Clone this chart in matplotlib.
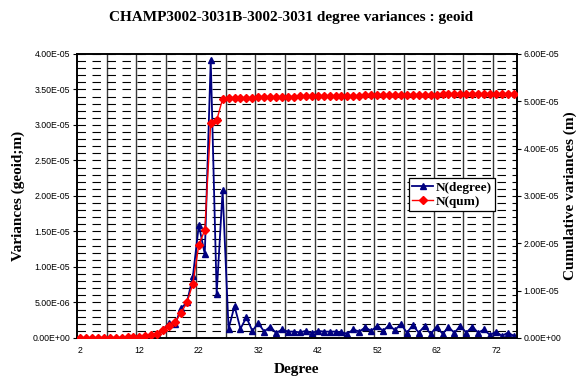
import matplotlib
matplotlib.use("Agg")
import matplotlib.pyplot as plt
import numpy as np

plt.rcParams["lines.scale_dashes"] = False

degrees = np.arange(2, 76)

# per-degree variances (units of 1e-5 m)
n_degree = np.array([
    0.001, 0.001, 0.001, 0.002, 0.002, 0.002, 0.003, 0.004, 0.005, 0.007,
    0.01, 0.015, 0.03, 0.06, 0.12, 0.21, 0.19, 0.42, 0.50, 0.87,
    1.59, 1.18, 3.92, 0.62, 2.08, 0.13, 0.45, 0.13, 0.29, 0.10,
    0.21, 0.09, 0.16, 0.07, 0.12, 0.09, 0.09, 0.08, 0.10, 0.07,
    0.10, 0.09, 0.09, 0.09, 0.08, 0.06, 0.12, 0.09, 0.15, 0.10,
    0.17, 0.10, 0.18, 0.11, 0.20, 0.075, 0.18, 0.075, 0.17, 0.056,
    0.16, 0.06, 0.15, 0.075, 0.17, 0.075, 0.16, 0.075, 0.12, 0.04,
    0.09, 0.03, 0.075, 0.03]) * 1e-5

# cumulative variances (units of 1e-5 m)
n_qum = np.array([
    0.0, 0.001, 0.002, 0.003, 0.004, 0.005, 0.007, 0.009, 0.012, 0.018,
    0.027, 0.04, 0.055, 0.08, 0.16, 0.25, 0.33, 0.53, 0.75, 1.15,
    1.97, 2.28, 4.55, 4.60, 5.05, 5.06, 5.07, 5.07, 5.08, 5.08,
    5.09, 5.09, 5.09, 5.095, 5.10, 5.10, 5.10, 5.105, 5.105, 5.11,
    5.11, 5.11, 5.115, 5.115, 5.115, 5.12, 5.12, 5.12, 5.125, 5.125,
    5.125, 5.13, 5.13, 5.13, 5.135, 5.135, 5.135, 5.14, 5.14, 5.14,
    5.14, 5.145, 5.145, 5.145, 5.145, 5.145, 5.15, 5.15, 5.15, 5.15,
    5.15, 5.15, 5.155, 5.155]) * 1e-5

x_tick_labels = [2, 12, 22, 32, 42, 52, 62, 72]

fig = plt.figure(figsize=(5.82, 3.81), dpi=100)
ax1 = fig.add_axes([0.1323, 0.1129, 0.7557, 0.7454])
ax2 = ax1.twinx()

# grid: dashed horizontals every 1e-6, solid verticals every 5 degrees
ax1.set_yticks(np.arange(0, 4.01e-5, 1e-6), minor=True)
ax1.yaxis.grid(True, which="both", linestyle=(0, (6.1, 4.7)), color="black", linewidth=0.8)
for xv in np.arange(6.5, 75, 5):
    ax1.axvline(xv, color="#3a3a3a", linewidth=1.0, zorder=0.5)

line1, = ax1.plot(degrees, n_degree, color="#000080", linewidth=1.3, marker="^",
                  markersize=5, label="N(degree)", zorder=3)
line2, = ax2.plot(degrees, n_qum, color="#ff0000", linewidth=1.0, marker="D",
                  markersize=3.6, label="N(qum)", zorder=3)

ax1.set_xlim(1.5, 75.5)
ax1.set_ylim(0, 4e-5)
ax2.set_ylim(0, 6e-5)

ax1.set_xticks(x_tick_labels)
ax1.set_xticklabels([str(v) for v in x_tick_labels])
ax1.set_yticks(np.arange(0, 4.01e-5, 0.5e-5))
ax1.set_yticklabels([f"{v:.2E}" for v in np.arange(0, 4.01e-5, 0.5e-5)])
ax2.set_yticks(np.arange(0, 6.01e-5, 1e-5))
ax2.set_yticklabels([f"{v:.2E}" for v in np.arange(0, 6.01e-5, 1e-5)])

tick_font = {"family": "Liberation Sans", "size": 6.3}
for lab in ax1.get_xticklabels() + ax1.get_yticklabels() + ax2.get_yticklabels():
    lab.set_fontfamily(tick_font["family"])
    lab.set_fontsize(tick_font["size"])

ax1.tick_params(axis="x", length=0, pad=6)
ax1.tick_params(axis="y", which="major", length=3, width=0.8, pad=2, direction="out")
ax1.tick_params(axis="y", which="minor", length=0)
ax2.tick_params(axis="y", length=3, width=0.8, pad=2, direction="out")

for ax in (ax1, ax2):
    for spine in ax.spines.values():
        spine.set_linewidth(1.2)
        spine.set_color("black")

label_font = {"family": "Liberation Serif", "weight": "bold", "size": 11}
fig.text(0.5, 0.955, "CHAMP3002-3031B-3002-3031 degree variances : geoid",
         ha="center", va="center", **label_font)
fig.text(0.031, 0.486, "Variances (geoid;m)", rotation=90, ha="center", va="center", **label_font)
fig.text(0.979, 0.486, "Cumulative variances (m)", rotation=90, ha="center", va="center", **label_font)
fig.text(0.51, 0.029, "Degree", ha="center", va="center", **label_font)

leg = ax2.legend(handles=[line1, line2], loc="upper left", bbox_to_anchor=(0.7027, 0.5328),
                 bbox_transform=fig.transFigure, borderaxespad=0, fancybox=False,
                 framealpha=1, edgecolor="black", handlelength=1.6, handletextpad=0.2,
                 borderpad=0.25, labelspacing=0.15,
                 prop={"family": "Liberation Serif", "weight": "bold", "size": 9.5})
leg.get_frame().set_linewidth(0.9)

plt.savefig("out.png", dpi=100)
